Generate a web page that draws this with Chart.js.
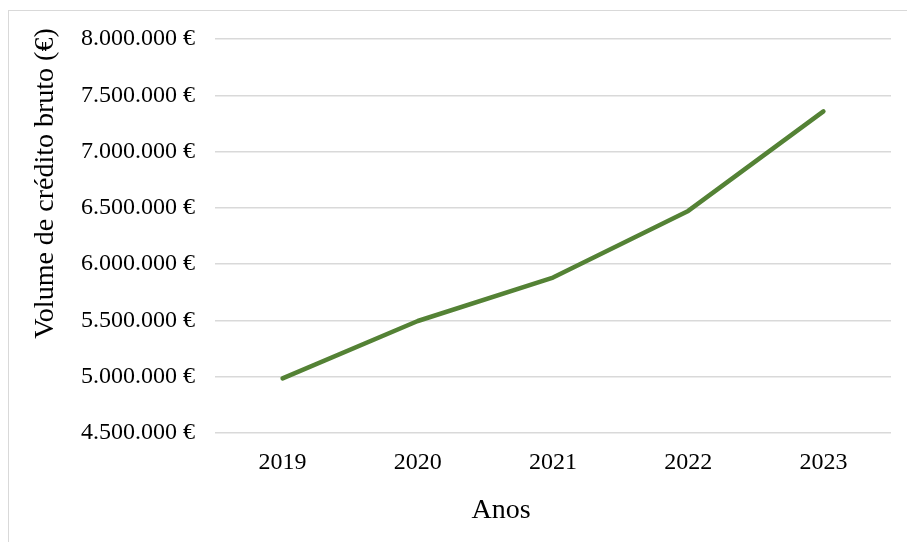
<!DOCTYPE html>
<html>
<head>
<meta charset="utf-8">
<script src="https://cdn.jsdelivr.net/npm/chart.js@4"></script>
<style>
  body { margin: 0; background: #fff; }
  #wrap { position: relative; width: 907px; height: 542px; overflow: hidden; }
  #frame { position: absolute; left: 8px; top: 10px; width: 905px; height: 540px; border: 1px solid #d9d9d9; }
  #myChart { position: absolute; left: 0; top: 0; }
</style>
</head>
<body>
<div id="wrap">
  <div id="frame"></div>
  <canvas id="myChart" width="907" height="542"></canvas>
</div>
<script>
const years = ['2019', '2020', '2021', '2022', '2023'];
const volume = [4985000, 5495000, 5881000, 6473000, 7357000];
const yMin = 4500000;
const yMax = 8000000;
const yStep = 500000;
const xTitle = 'Anos';
const yTitle = 'Volume de crédito bruto (€)';

const serif = '"Liberation Serif", "Times New Roman", serif';

function euro(v) {
  return v.toString().replace(/\B(?=(\d{3})+(?!\d))/g, '.') + ' €';
}

// axis titles, placed like the Excel original (centred on the chart box, not the plot)
const axisTitles = {
  id: 'axisTitles',
  afterDraw(chart) {
    const c = chart.ctx;
    c.save();
    c.fillStyle = '#000';
    c.font = '28px ' + serif;
    c.textAlign = 'center';
    c.textBaseline = 'alphabetic';
    c.fillText(xTitle, 501, 518);
    c.translate(53, 183.5);
    c.rotate(-Math.PI / 2);
    c.fillText(yTitle, 0, 0);
    c.restore();
  }
};

const ctx = document.getElementById('myChart');
new Chart(ctx, {
  type: 'line',
  data: {
    labels: years,
    datasets: [{
      label: 'Volume de crédito bruto',
      data: volume,
      borderColor: 'rgb(84, 130, 53)',
      borderWidth: 4.5,
      borderCapStyle: 'round',
      borderJoinStyle: 'round',
      pointRadius: 0,
      tension: 0,
      fill: false
    }]
  },
  options: {
    responsive: false,
    animation: false,
    layout: {
      padding: { top: 39, right: 16, left: 0, bottom: 0 }
    },
    plugins: {
      legend: { display: false },
      tooltip: { enabled: false }
    },
    scales: {
      x: {
        offset: true,
        grid: { display: false, drawTicks: false },
        border: { display: false },
        ticks: {
          padding: 15,
          color: '#000',
          font: { family: serif, size: 24 }
        },
        afterFit: (scale) => { scale.height = 109; }
      },
      y: {
        min: yMin,
        max: yMax,
        grid: { color: '#d9d9d9', lineWidth: 1.5, drawTicks: false },
        border: { display: false },
        ticks: {
          stepSize: yStep,
          padding: 20,
          color: '#000',
          font: { family: serif, size: 24 },
          callback: (v) => euro(v)
        },
        afterFit: (scale) => { scale.width = 215; }
      }
    }
  },
  plugins: [axisTitles]
});
</script>
</body>
</html>
